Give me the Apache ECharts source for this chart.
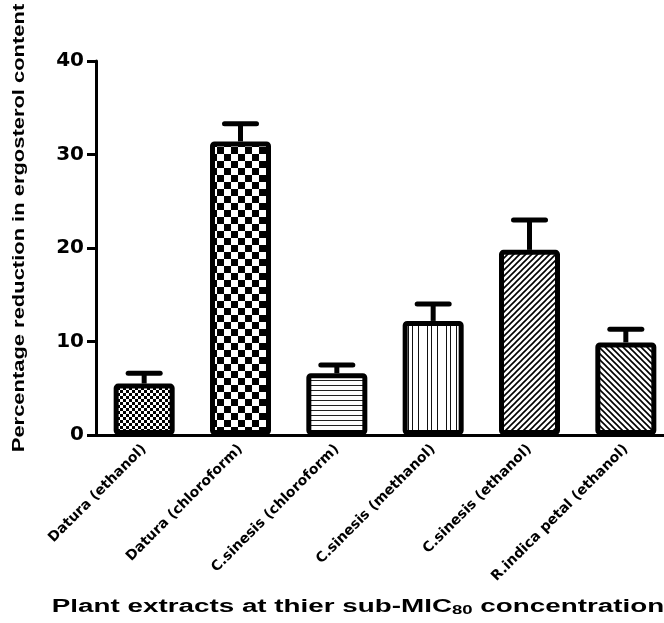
<!DOCTYPE html>
<html><head><meta charset="utf-8">
<script src="https://cdn.jsdelivr.net/npm/echarts@6/dist/echarts.min.js"></script>
<style>html,body{margin:0;padding:0;background:#fff}#c{width:664px;height:623px}</style>
</head><body><div id="c"></div>
<script>
var categories = ['Datura (ethanol)','Datura (chloroform)','C.sinesis (chloroform)','C.sinesis (methanol)','C.sinesis (ethanol)','R.indica petal (ethanol)'];
var means = [5.5, 31.4, 6.6, 12.2, 19.8, 9.9];
var errors = [1.1, 1.9, 0.9, 1.8, 3.2, 1.4];
var yTicks = [0, 10, 20, 30, 40];

function makePattern(kind){
  var c = document.createElement('canvas');
  var ctx = c.getContext('2d');
  if(kind==='fineChecker'){
    c.width=6;c.height=6;ctx.fillStyle='#fff';ctx.fillRect(0,0,6,6);
    ctx.fillStyle='#000';ctx.fillRect(0,0,3,3);ctx.fillRect(3,3,3,3);
  } else if(kind==='bigChecker'){
    c.width=14;c.height=14;ctx.fillStyle='#fff';ctx.fillRect(0,0,14,14);
    ctx.fillStyle='#000';ctx.fillRect(0,0,7,7);ctx.fillRect(7,7,7,7);
  } else if(kind==='hLines'){
    c.width=5;c.height=5;ctx.fillStyle='#fff';ctx.fillRect(0,0,5,5);
    ctx.fillStyle='#222';ctx.fillRect(0,0,5,1);
  } else if(kind==='vLines'){
    c.width=19;c.height=4;ctx.fillStyle='#fff';ctx.fillRect(0,0,19,4);
    ctx.fillStyle='#111';ctx.fillRect(0,0,1,4);ctx.fillRect(9,0,1,4);ctx.fillRect(13,0,1,4);
  } else if(kind==='diagUp'){
    c.width=6;c.height=6;ctx.fillStyle='#fff';ctx.fillRect(0,0,6,6);
    ctx.strokeStyle='#000';ctx.lineWidth=1.6;
    ctx.beginPath();ctx.moveTo(-1,7);ctx.lineTo(7,-1);ctx.moveTo(-4,4);ctx.lineTo(4,-4);ctx.moveTo(2,10);ctx.lineTo(10,2);ctx.stroke();
  } else if(kind==='diagDown'){
    c.width=6;c.height=6;ctx.fillStyle='#fff';ctx.fillRect(0,0,6,6);
    ctx.strokeStyle='#000';ctx.lineWidth=1.6;
    ctx.beginPath();ctx.moveTo(-1,-1);ctx.lineTo(7,7);ctx.moveTo(-4,2);ctx.lineTo(4,10);ctx.moveTo(2,-4);ctx.lineTo(10,4);ctx.stroke();
  }
  return {image:c, repeat:'repeat'};
}
var patternKinds = ['fineChecker','bigChecker','hLines','vLines','diagUp','diagDown'];

var chart = echarts.init(document.getElementById('c'), null, {renderer:'canvas'});
var barData = means.map(function(v,i){
  return {value:v, itemStyle:{color:makePattern(patternKinds[i])}};
});
var errData = means.map(function(v,i){ return [i, v, errors[i]]; });

chart.setOption({
  animation:false,
  grid:{left:96, width:578, top:61, height:374, containLabel:false, outerBoundsMode:'none'},
  xAxis:{
    type:'category', data:categories,
    axisLine:{lineStyle:{color:'#000', width:3}},
    axisTick:{alignWithLabel:true, length:8, lineStyle:{color:'#000', width:3}},
    axisLabel:{rotate:45, margin:12, color:'#000', fontFamily:'DejaVu Sans', fontWeight:'bold', fontSize:14}
  },
  yAxis:{
    type:'value', min:0, max:40, interval:10,
    axisLine:{show:true, lineStyle:{color:'#000', width:3}},
    axisTick:{show:true, length:9, lineStyle:{color:'#000', width:3}},
    splitLine:{show:false},
    axisLabel:{color:'#000', margin:12, fontFamily:'DejaVu Sans', fontWeight:'bold', fontSize:20,
      formatter:function(v){ return yTicks.indexOf(v)>=0 ? String(v) : ''; }}
  },
  graphic:[
    {type:'text', x:19, y:228, rotation:Math.PI/2, scaleX:1.29,
     style:{text:'Percentage reduction in ergosterol content', fill:'#000', font:'bold 17px "Liberation Sans", Arial', align:'center', verticalAlign:'middle'}},
    {type:'text', x:358, y:607, scaleX:1.545,
     style:{text:'{m|Plant extracts at thier sub-MIC}{s|80}{m| concentration}', align:'center', verticalAlign:'middle',
       rich:{m:{font:'bold 18px "Liberation Sans", Arial', color:'#000'}, s:{font:'bold 12px "Liberation Sans", Arial', color:'#000', padding:[8,0,0,0]}}}}
  ],
  series:[
    {type:'bar', data:barData, barWidth:61,
     itemStyle:{borderColor:'#000', borderWidth:5, borderRadius:2}},
    {type:'custom', data:errData, z:1,
     renderItem:function(params, api){
       var base = api.coord([api.value(0), api.value(1)]);
       var top = api.coord([api.value(0), api.value(1)+api.value(2)]);
       var hw = 16;
       return {type:'group', children:[
         {type:'line', shape:{x1:base[0], y1:base[1], x2:top[0], y2:top[1]}, style:{stroke:'#000', lineWidth:5}},
         {type:'line', shape:{x1:top[0]-hw, y1:top[1], x2:top[0]+hw, y2:top[1]}, style:{stroke:'#000', lineWidth:5, lineCap:'round'}}
       ]};
     }}
  ]
});
</script></body></html>
